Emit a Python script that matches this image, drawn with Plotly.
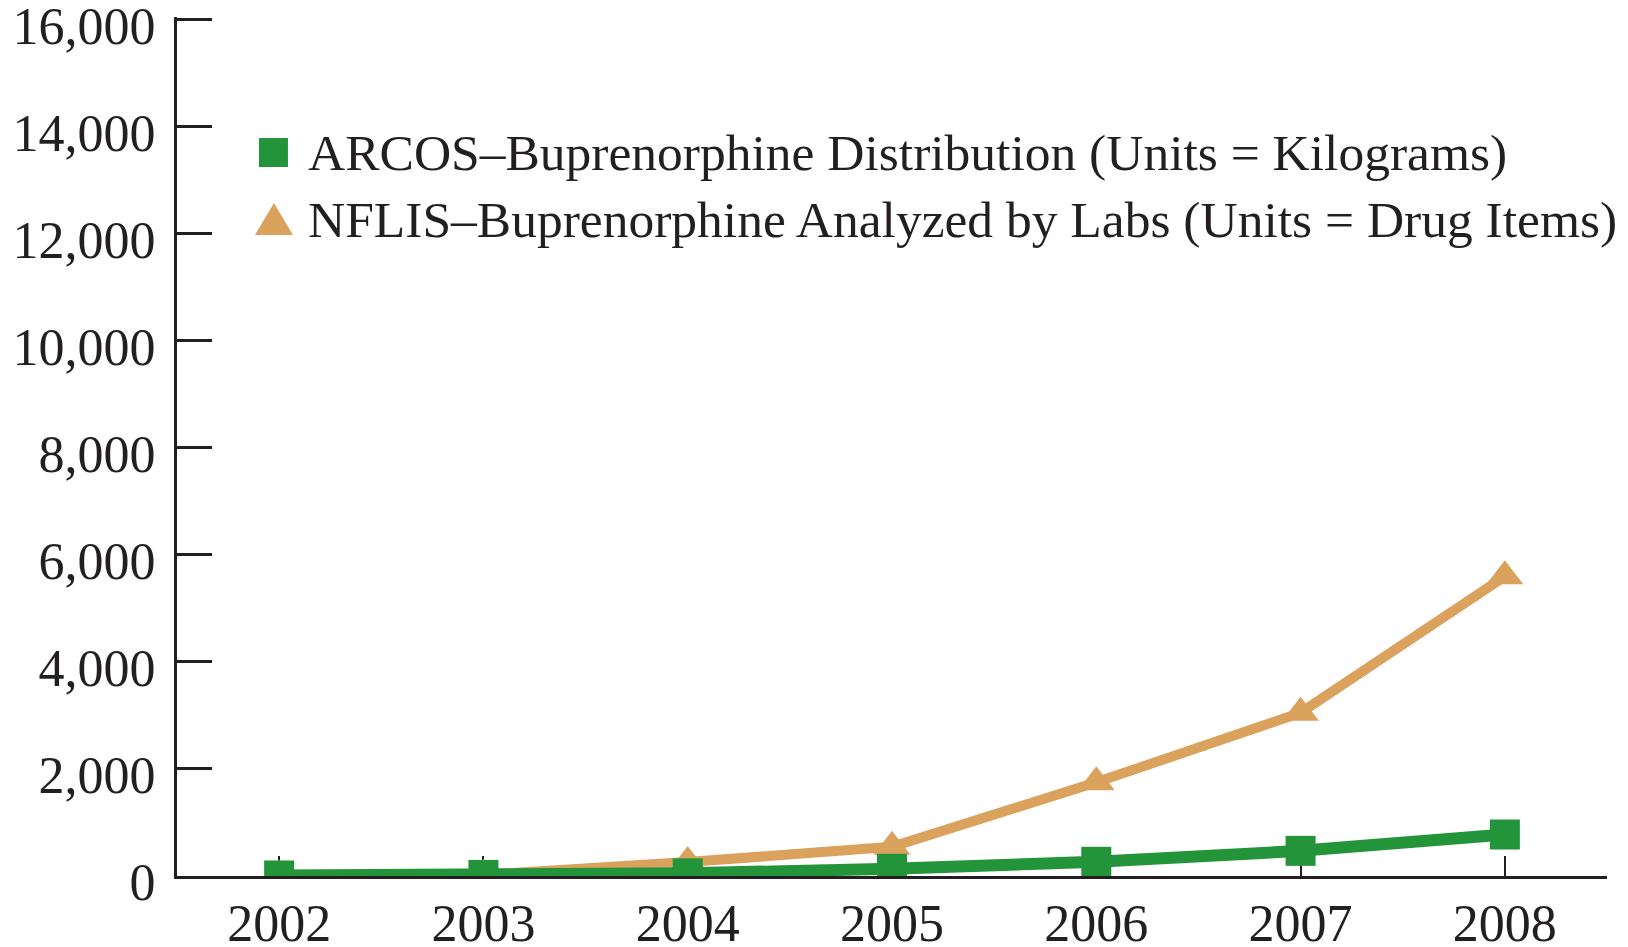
import plotly.graph_objects as go

years = [2002, 2003, 2004, 2005, 2006, 2007, 2008]
arcos_kg = [10, 20, 50, 135, 265, 470, 775]
nflis_items = [5, 25, 260, 545, 1750, 3050, 5600]

arcos_name = "ARCOS\u2013Buprenorphine Distribution (Units = Kilograms)"
nflis_name = "NFLIS\u2013Buprenorphine Analyzed by Labs (Units = Drug Items)"

y_ticks = [0, 2000, 4000, 6000, 8000, 10000, 12000, 14000, 16000]

GREEN = "#24943A"
ORANGE = "#DBA25E"
INK = "#231F20"
FONT = "Liberation Serif"

fig = go.Figure()
fig.add_trace(go.Scatter(
    x=years, y=nflis_items, name=nflis_name, mode="lines+markers",
    line=dict(color=ORANGE, width=10),
    marker=dict(symbol="triangle-up", size=32, color=ORANGE),
    showlegend=False,
))
fig.add_trace(go.Scatter(
    x=years, y=arcos_kg, name=arcos_name, mode="lines+markers",
    line=dict(color=GREEN, width=12),
    marker=dict(symbol="square", size=30, color=GREEN),
    showlegend=False,
))

# Manual legend (symbols as shapes, labels as annotations), paper coordinates
fig.add_shape(type="rect", xref="paper", yref="paper",
              x0=0.0573, x1=0.0776, y0=0.8254, y1=0.8591,
              fillcolor=GREEN, line=dict(width=0))
fig.add_shape(type="path", xref="paper", yref="paper",
              path="M 0.0545,0.7462 L 0.0811,0.7462 L 0.0678,0.7835 Z",
              fillcolor=ORANGE, line=dict(width=0))
fig.add_annotation(xref="paper", yref="paper", x=0.0902, y=0.8423,
                   text=arcos_name, showarrow=False, xanchor="left", yanchor="middle",
                   font=dict(family=FONT, size=51.5, color=INK))
fig.add_annotation(xref="paper", yref="paper", x=0.0902, y=0.7648,
                   text=nflis_name, showarrow=False, xanchor="left", yanchor="middle",
                   font=dict(family=FONT, size=51.5, color=INK))

fig.update_layout(
    width=1620, height=939,
    margin=dict(l=169, r=21, t=9, b=71),
    paper_bgcolor="white", plot_bgcolor="white",
    font=dict(family=FONT, size=52, color=INK),
    showlegend=False,
)
fig.update_xaxes(
    range=[2001.5, 2008.5], tickvals=years, ticktext=[str(y) for y in years],
    showline=True, linewidth=3, linecolor=INK,
    ticks="inside", ticklen=20, tickwidth=2, tickcolor=INK,
    showgrid=False, zeroline=False, automargin=False, layer="below traces",
    tickfont=dict(family=FONT, size=52, color=INK),
    ticklabeloverflow="allow",
)
fig.update_yaxes(
    range=[0, 16050], tickvals=y_ticks, tickformat=",",
    showline=True, linewidth=3, linecolor=INK,
    ticks="inside", ticklen=35, tickwidth=3, tickcolor=INK,
    showgrid=False, zeroline=False, automargin=False, layer="below traces",
    tickfont=dict(family=FONT, size=52, color=INK),
    ticklabelstandoff=8, ticklabelshift=6, ticklabeloverflow="allow",
)

fig.write_html("out.html")
